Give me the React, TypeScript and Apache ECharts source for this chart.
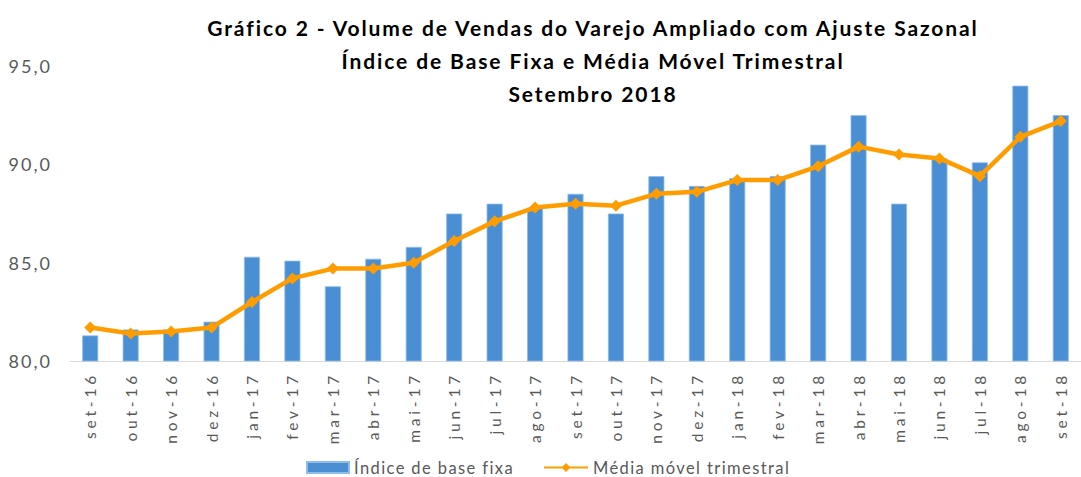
import React, { useEffect, useRef } from "react";
import * as echarts from "echarts";

const categories = [
  "set-16", "out-16", "nov-16", "dez-16", "jan-17", "fev-17", "mar-17", "abr-17", "mai-17",
  "jun-17", "jul-17", "ago-17", "set-17", "out-17", "nov-17", "dez-17", "jan-18", "fev-18",
  "mar-18", "abr-18", "mai-18", "jun-18", "jul-18", "ago-18", "set-18",
];

const indiceBaseFixa = [
  81.3, 81.6, 81.6, 82.0, 85.3, 85.1, 83.8, 85.2, 85.8,
  87.5, 88.0, 87.8, 88.5, 87.5, 89.4, 88.9, 89.3, 89.4,
  91.0, 92.5, 88.0, 90.3, 90.1, 94.0, 92.5,
];

const mediaMovel = [
  81.7, 81.4, 81.5, 81.7, 83.0, 84.2, 84.7, 84.7, 85.0,
  86.1, 87.1, 87.8, 88.0, 87.9, 88.5, 88.6, 89.2, 89.2,
  89.9, 90.9, 90.5, 90.3, 89.4, 91.4, 92.2,
];

const yTicks = { min: 80, max: 95, interval: 5 };

const titleLines = [
  "Gráfico 2 - Volume de Vendas do Varejo Ampliado com Ajuste Sazonal",
  "Índice de Base Fixa e Média Móvel Trimestral",
  "Setembro 2018",
];

const FONT = "Lato, 'Open Sans', sans-serif";

const css = `
#chart-root text[style*="21px"], #chart-root text[font-size="21"], #chart-root text[font-size="21px"] { letter-spacing: 1.9px; }
#chart-root text[style*="18px"], #chart-root text[font-size="18"], #chart-root text[font-size="18px"] { letter-spacing: 2px; }
#chart-root text[style*="15.5px"], #chart-root text[font-size="15.5"], #chart-root text[font-size="15.5px"] { letter-spacing: 3.8px; }
#chart-root text[style*="16.5px"], #chart-root text[font-size="16.5"], #chart-root text[font-size="16.5px"] { letter-spacing: 1.4px; }
`;

export default function App() {
  const ref = useRef<HTMLDivElement>(null);
  useEffect(() => {
    if (!ref.current) return;
    const chart = echarts.init(ref.current, null, { renderer: "svg" });
    const legendText = { fontFamily: FONT, fontSize: 16.5, color: "#595959" };
    chart.setOption({
      animation: false,
      backgroundColor: "#ffffff",
      title: {
        text: titleLines.join("\n"),
        left: 553,
        top: 6,
        textAlign: "center",
        padding: [5, 40, 5, 40],
        textStyle: {
          fontFamily: FONT,
          fontWeight: "bold",
          fontSize: 21,
          lineHeight: 33,
          color: "#000000",
        },
      },
      legend: [
        {
          left: 301,
          top: 454,
          itemWidth: 42,
          itemHeight: 11,
          padding: [5, 40, 5, 5],
          textStyle: legendText,
          data: [{ name: "Índice de base fixa", icon: "rect" }],
        },
        {
          left: 538,
          top: 454,
          itemWidth: 44,
          itemHeight: 11,
          padding: [5, 40, 5, 5],
          textStyle: legendText,
          data: [{ name: "Média móvel trimestral" }],
        },
      ],
      grid: { left: 70, top: 66, width: 1021, height: 295, containLabel: false },
      xAxis: {
        type: "category",
        data: categories,
        axisLine: { show: true, lineStyle: { color: "#d9d9d9", width: 1 } },
        axisTick: { show: false },
        axisLabel: {
          rotate: 90,
          interval: 0,
          margin: 11,
          fontFamily: FONT,
          fontSize: 15.5,
          color: "#595959",
        },
      },
      yAxis: {
        type: "value",
        min: yTicks.min,
        max: yTicks.max,
        interval: yTicks.interval,
        axisLine: { show: false },
        axisTick: { show: false },
        splitLine: { show: false },
        axisLabel: {
          margin: 18,
          fontFamily: FONT,
          fontSize: 18,
          color: "#595959",
          formatter: (v: number) => v.toFixed(1).replace(".", ","),
        },
      },
      series: [
        {
          name: "Índice de base fixa",
          type: "bar",
          data: indiceBaseFixa,
          barWidth: 16,
          itemStyle: { color: "#4a8fd4", borderColor: "#8fbde8", borderWidth: 0.8 },
        },
        {
          name: "Média móvel trimestral",
          type: "line",
          data: mediaMovel,
          symbol: "diamond",
          symbolSize: 12,
          lineStyle: { color: "#ff9d00", width: 4.5 },
          itemStyle: { color: "#ff9d00" },
          z: 5,
        },
      ],
    });
    return () => chart.dispose();
  }, []);
  return (
    <>
      <style>{css}</style>
      <div
        id="chart-root"
        ref={ref}
        style={{ position: "fixed", left: 0, top: 0, width: 1081, height: 477, background: "#fff" }}
      />
    </>
  );
}
